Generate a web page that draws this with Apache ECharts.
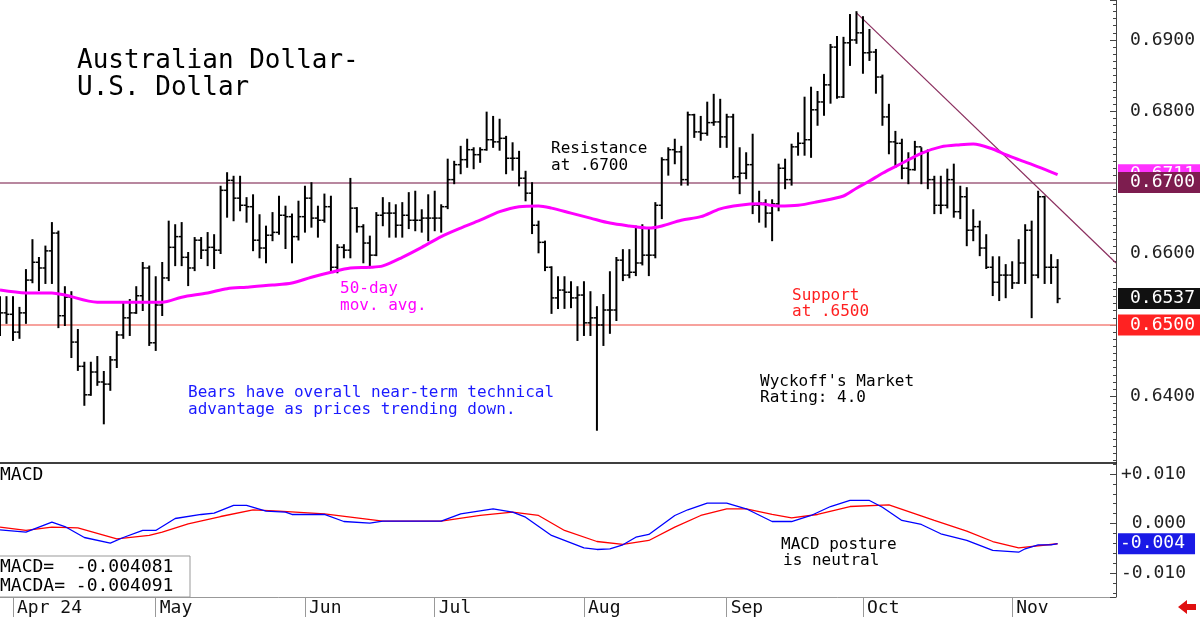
<!DOCTYPE html>
<html>
<head>
<meta charset="utf-8">
<title>Australian Dollar - U.S. Dollar</title>
<script src="https://cdn.jsdelivr.net/npm/echarts@6/dist/echarts.min.js"></script>
<style>
  html, body { margin: 0; padding: 0; background: #fff; }
  #chart { width: 1200px; height: 619px; }
</style>
</head>
<body>
<div id="chart"></div>
<script>
// daily bars, index 0 = 2024-03-28 (weekdays only)
const opens = [
  0.6507, 0.6517, 0.6515, 0.6490, 0.6517, 0.6563, 0.6588, 0.6580, 0.6604, 0.6629,
  0.6513, 0.6539, 0.6476, 0.6442, 0.6402, 0.6434, 0.6420, 0.6417, 0.6451, 0.6486,
  0.6510, 0.6517, 0.6541, 0.6580, 0.6475, 0.6528, 0.6566, 0.6609, 0.6624, 0.6595,
  0.6580, 0.6619, 0.6605, 0.6609, 0.6605, 0.6689, 0.6703, 0.6678, 0.6668, 0.6666,
  0.6619, 0.6608, 0.6626, 0.6630, 0.6654, 0.6652, 0.6624, 0.6652, 0.6678, 0.6650,
  0.6647, 0.6666, 0.6581, 0.6609, 0.6605, 0.6664, 0.6638, 0.6615, 0.6598, 0.6654,
  0.6657, 0.6657, 0.6640, 0.6654, 0.6647, 0.6647, 0.6650, 0.6650, 0.6650, 0.6666,
  0.6704, 0.6725, 0.6732, 0.6746, 0.6739, 0.6746, 0.6760, 0.6757, 0.6762, 0.6734,
  0.6734, 0.6706, 0.6685, 0.6640, 0.6616, 0.6581, 0.6538, 0.6549, 0.6546, 0.6538,
  0.6542, 0.6503, 0.6510, 0.6500, 0.6521, 0.6521, 0.6591, 0.6570, 0.6574, 0.6587,
  0.6598, 0.6598, 0.6668, 0.6732, 0.6746, 0.6743, 0.6704, 0.6795, 0.6771, 0.6769,
  0.6784, 0.6785, 0.6764, 0.6792, 0.6708, 0.6713, 0.6725, 0.6668, 0.6671, 0.6657,
  0.6670, 0.6720, 0.6704, 0.6750, 0.6755, 0.6760, 0.6802, 0.6813, 0.6837, 0.6890,
  0.6820, 0.6896, 0.6900, 0.6910, 0.6882, 0.6883, 0.6848, 0.6792, 0.6757, 0.6755,
  0.6720, 0.6718, 0.6750, 0.6743, 0.6704, 0.6668, 0.6668, 0.6704, 0.6659, 0.6680,
  0.6633, 0.6638, 0.6608, 0.6581, 0.6560, 0.6570, 0.6570, 0.6559, 0.6587, 0.6633,
  0.6570, 0.6680, 0.6581, 0.6581
];
const highs = [
  0.6539, 0.6539, 0.6539, 0.6524, 0.6577, 0.6619, 0.6594, 0.6610, 0.6643, 0.6631,
  0.6553, 0.6546, 0.6493, 0.6447, 0.6447, 0.6455, 0.6434, 0.6455, 0.6490, 0.6531,
  0.6535, 0.6553, 0.6587, 0.6582, 0.6567, 0.6587, 0.6645, 0.6640, 0.6643, 0.6601,
  0.6622, 0.6622, 0.6629, 0.6626, 0.6694, 0.6713, 0.6708, 0.6708, 0.6678, 0.6682,
  0.6654, 0.6638, 0.6657, 0.6680, 0.6666, 0.6655, 0.6673, 0.6694, 0.6699, 0.6666,
  0.6683, 0.6680, 0.6612, 0.6612, 0.6705, 0.6664, 0.6640, 0.6624, 0.6657, 0.6678,
  0.6671, 0.6668, 0.6671, 0.6685, 0.6687, 0.6661, 0.6682, 0.6687, 0.6668, 0.6732,
  0.6729, 0.6750, 0.6760, 0.6748, 0.6748, 0.6798, 0.6792, 0.6788, 0.6764, 0.6755,
  0.6743, 0.6715, 0.6699, 0.6645, 0.6617, 0.6581, 0.6567, 0.6567, 0.6560, 0.6553,
  0.6560, 0.6546, 0.6525, 0.6542, 0.6574, 0.6594, 0.6605, 0.6605, 0.6638, 0.6640,
  0.6636, 0.6671, 0.6734, 0.6748, 0.6760, 0.6750, 0.6798, 0.6795, 0.6792, 0.6812,
  0.6823, 0.6816, 0.6795, 0.6795, 0.6748, 0.6741, 0.6767, 0.6687, 0.6675, 0.6675,
  0.6725, 0.6732, 0.6753, 0.6769, 0.6819, 0.6833, 0.6827, 0.6851, 0.6893, 0.6904,
  0.6903, 0.6935, 0.6939, 0.6932, 0.6914, 0.6886, 0.6850, 0.6809, 0.6771, 0.6760,
  0.6741, 0.6757, 0.6748, 0.6745, 0.6708, 0.6708, 0.6718, 0.6725, 0.6694, 0.6692,
  0.6661, 0.6645, 0.6626, 0.6595, 0.6595, 0.6584, 0.6588, 0.6619, 0.6640, 0.6645,
  0.6687, 0.6680, 0.6598, 0.6591
];
const lows = [
  0.6486, 0.6503, 0.6479, 0.6482, 0.6503, 0.6560, 0.6549, 0.6559, 0.6559, 0.6497,
  0.6500, 0.6455, 0.6437, 0.6388, 0.6402, 0.6416, 0.6362, 0.6409, 0.6441, 0.6482,
  0.6486, 0.6517, 0.6521, 0.6472, 0.6465, 0.6514, 0.6563, 0.6584, 0.6584, 0.6556,
  0.6577, 0.6594, 0.6584, 0.6580, 0.6601, 0.6652, 0.6647, 0.6661, 0.6645, 0.6605,
  0.6595, 0.6588, 0.6619, 0.6628, 0.6608, 0.6588, 0.6620, 0.6631, 0.6638, 0.6624,
  0.6645, 0.6577, 0.6574, 0.6595, 0.6595, 0.6631, 0.6588, 0.6581, 0.6598, 0.6640,
  0.6624, 0.6624, 0.6624, 0.6636, 0.6633, 0.6631, 0.6619, 0.6633, 0.6631, 0.6664,
  0.6699, 0.6713, 0.6722, 0.6720, 0.6729, 0.6746, 0.6750, 0.6746, 0.6713, 0.6718,
  0.6696, 0.6675, 0.6629, 0.6602, 0.6577, 0.6517, 0.6524, 0.6524, 0.6525, 0.6479,
  0.6486, 0.6486, 0.6353, 0.6472, 0.6489, 0.6507, 0.6563, 0.6567, 0.6570, 0.6585,
  0.6570, 0.6595, 0.6650, 0.6711, 0.6727, 0.6697, 0.6697, 0.6764, 0.6760, 0.6767,
  0.6781, 0.6750, 0.6750, 0.6706, 0.6685, 0.6706, 0.6657, 0.6645, 0.6638, 0.6619,
  0.6661, 0.6692, 0.6697, 0.6739, 0.6739, 0.6736, 0.6781, 0.6795, 0.6812, 0.6819,
  0.6820, 0.6865, 0.6896, 0.6854, 0.6872, 0.6826, 0.6781, 0.6741, 0.6722, 0.6706,
  0.6699, 0.6718, 0.6699, 0.6692, 0.6657, 0.6657, 0.6665, 0.6652, 0.6650, 0.6612,
  0.6619, 0.6598, 0.6580, 0.6542, 0.6535, 0.6539, 0.6552, 0.6559, 0.6559, 0.6511,
  0.6567, 0.6559, 0.6559, 0.6532
];
const closes = [
  0.6517, 0.6515, 0.6490, 0.6517, 0.6563, 0.6588, 0.6580, 0.6604, 0.6629, 0.6513,
  0.6539, 0.6476, 0.6442, 0.6402, 0.6434, 0.6420, 0.6417, 0.6451, 0.6486, 0.6510,
  0.6517, 0.6541, 0.6580, 0.6475, 0.6528, 0.6566, 0.6609, 0.6624, 0.6595, 0.6580,
  0.6619, 0.6605, 0.6609, 0.6605, 0.6689, 0.6703, 0.6678, 0.6668, 0.6666, 0.6619,
  0.6608, 0.6626, 0.6630, 0.6654, 0.6652, 0.6624, 0.6652, 0.6678, 0.6650, 0.6647,
  0.6666, 0.6581, 0.6609, 0.6605, 0.6664, 0.6638, 0.6615, 0.6598, 0.6654, 0.6657,
  0.6657, 0.6640, 0.6654, 0.6647, 0.6647, 0.6650, 0.6650, 0.6650, 0.6666, 0.6704,
  0.6725, 0.6732, 0.6746, 0.6739, 0.6746, 0.6760, 0.6757, 0.6762, 0.6734, 0.6734,
  0.6706, 0.6685, 0.6640, 0.6616, 0.6581, 0.6538, 0.6549, 0.6546, 0.6538, 0.6542,
  0.6503, 0.6510, 0.6500, 0.6521, 0.6521, 0.6591, 0.6570, 0.6574, 0.6587, 0.6598,
  0.6598, 0.6668, 0.6732, 0.6746, 0.6743, 0.6704, 0.6795, 0.6771, 0.6769, 0.6784,
  0.6785, 0.6764, 0.6792, 0.6708, 0.6713, 0.6725, 0.6668, 0.6671, 0.6657, 0.6670,
  0.6720, 0.6704, 0.6750, 0.6755, 0.6760, 0.6802, 0.6813, 0.6837, 0.6890, 0.6820,
  0.6896, 0.6900, 0.6910, 0.6882, 0.6883, 0.6848, 0.6792, 0.6757, 0.6755, 0.6720,
  0.6718, 0.6750, 0.6743, 0.6704, 0.6668, 0.6668, 0.6704, 0.6659, 0.6680, 0.6633,
  0.6638, 0.6608, 0.6581, 0.6560, 0.6570, 0.6570, 0.6559, 0.6587, 0.6633, 0.6570,
  0.6680, 0.6581, 0.6581, 0.6537
];

// 50-day moving average, [bar index, value]
const ma50 = [
  [0, 0.6549], [4, 0.6545], [8, 0.6545], [10, 0.6542], [15, 0.6532], [19, 0.6532],
  [23, 0.6532], [25, 0.6532], [28, 0.6539], [32, 0.6545], [35, 0.6551], [38, 0.6553],
  [42, 0.6556], [45, 0.6559], [48, 0.6567], [51, 0.6574], [54, 0.6580], [57, 0.6581],
  [59, 0.6583], [62, 0.6595], [65, 0.6609], [68, 0.6624], [71, 0.6636], [74, 0.6647],
  [77, 0.6659], [80, 0.6666], [83, 0.6667], [85, 0.6664], [88, 0.6657], [91, 0.6650],
  [94, 0.6643], [97, 0.6639], [100, 0.6636], [102, 0.6639], [105, 0.6647], [108, 0.6652],
  [111, 0.6663], [114, 0.6668], [117, 0.6670], [120, 0.6667], [123, 0.6668], [126, 0.6673],
  [130, 0.6681], [132, 0.6692], [134, 0.6702], [136, 0.6713], [139, 0.6727], [142, 0.6741],
  [145, 0.6750], [148, 0.6753], [150, 0.6754], [153, 0.6747], [155, 0.6739], [157, 0.6732],
  [160, 0.6722], [163, 0.6711]
];

// MACD panel, [bar index, value]
const macd = [
  [0, -0.00127], [4, -0.00176], [8, 0.00026], [10, -0.00061], [13, -0.00283], [17, -0.00398],
  [19, -0.00283], [22, -0.00141], [24, -0.00141], [27, 0.00101], [31, 0.00182], [33, 0.00208],
  [36, 0.00364], [38, 0.00364], [41, 0.00248], [44, 0.00228], [45, 0.00182], [50, 0.00182],
  [53, 0.00040], [57, 0.00006], [59, 0.00046], [68, 0.00046], [71, 0.00196], [76, 0.00297],
  [79, 0.00228], [81, 0.00127], [85, -0.00242], [90, -0.00491], [92, -0.00525], [94, -0.00511],
  [96, -0.00430], [98, -0.00277], [100, -0.00222], [104, 0.00162], [106, 0.00277], [109, 0.00410],
  [112, 0.00410], [115, 0.00297], [119, 0.00040], [122, 0.00040], [125, 0.00162], [128, 0.00343],
  [131, 0.00465], [134, 0.00465], [136, 0.00329], [139, 0.00061], [142, -0.00020], [145, -0.00208],
  [149, -0.00343], [153, -0.00545], [157, -0.00580], [158, -0.00511], [160, -0.00430], [162, -0.00430],
  [163, -0.00408]
];
const macdAvg = [
  [0, -0.00075], [4, -0.00141], [8, -0.00075], [12, -0.00087], [18, -0.00309], [23, -0.00242],
  [25, -0.00176], [29, -0.00006], [34, 0.00141], [39, 0.00277], [43, 0.00248], [50, 0.00196],
  [59, 0.00046], [68, 0.00046], [74, 0.00162], [79, 0.00228], [83, 0.00162], [87, -0.00141],
  [92, -0.00364], [96, -0.00424], [100, -0.00343], [104, -0.00075], [108, 0.00162], [112, 0.00297],
  [115, 0.00297], [119, 0.00182], [122, 0.00115], [126, 0.00182], [131, 0.00343], [137, 0.00378],
  [144, 0.00061], [149, -0.00156], [153, -0.00364], [157, -0.00491], [163, -0.00409]
];

const tickLabels = {
  '2024-04': 'Apr 24', '2024-05': 'May', '2024-06': 'Jun', '2024-07': 'Jul',
  '2024-08': 'Aug', '2024-09': 'Sep', '2024-10': 'Oct', '2024-11': 'Nov'
};

const resistance = 0.67;
const support = 0.65;
const trendStart = [132, 0.6938];
const trendEnd = [172, 0.6587];

// weekday categories, a few empty slots after the last bar
const slotCount = 173;
const days = [];
for (let d = new Date(Date.UTC(2024, 2, 28)); days.length < slotCount; d.setUTCDate(d.getUTCDate() + 1)) {
  const wd = d.getUTCDay();
  if (wd !== 0 && wd !== 6) days.push(d.toISOString().slice(0, 10));
}
const isMonthStart = (i) => i > 0 && days[i].slice(0, 7) !== days[i - 1].slice(0, 7);

const mono = '"DejaVu Sans Mono", monospace';
const lastIdx = closes.length - 1;

function boxLabel(text, bg, padLeft) {
  return {
    show: true,
    position: 'end',
    distance: 2,
    formatter: text,
    color: '#fff',
    backgroundColor: bg,
    padding: [2, 10, 1, padLeft],
    fontFamily: mono,
    fontSize: 18
  };
}

function note(text, x, y, color, size) {
  return {
    type: 'text',
    x: x,
    y: y,
    z: 20,
    style: {
      text: text,
      fill: color || '#000',
      fontFamily: mono,
      fontSize: size || 16,
      verticalAlign: 'middle'
    }
  };
}

const chart = echarts.init(document.getElementById('chart'));

const option = {
  animation: false,
  backgroundColor: '#fff',
  grid: [
    { left: 0, right: 84, top: 0, height: 463 },
    { left: 0, right: 84, top: 463, height: 134 }
  ],
  xAxis: [
    {
      gridIndex: 0,
      type: 'category',
      data: days,
      boundaryGap: false,
      axisLine: { onZero: false, lineStyle: { color: '#000', width: 1.5 } },
      axisTick: { show: false },
      axisLabel: { show: false },
      splitLine: { show: false }
    },
    {
      gridIndex: 1,
      type: 'category',
      data: days,
      boundaryGap: false,
      axisLine: { onZero: false, lineStyle: { color: '#999', width: 1 } },
      axisTick: {
        interval: (i) => isMonthStart(i),
        length: 20,
        lineStyle: { color: '#999' }
      },
      axisLabel: {
        interval: (i) => isMonthStart(i),
        formatter: (v) => tickLabels[v.slice(0, 7)] || '',
        align: 'left',
        verticalAlign: 'top',
        padding: [0, 0, 0, 4],
        margin: 2,
        fontFamily: mono,
        fontSize: 18,
        color: '#111'
      },
      splitLine: { show: false }
    }
  ],
  yAxis: [
    {
      gridIndex: 0,
      type: 'value',
      position: 'right',
      min: 0.63063,
      max: 0.69561,
      splitNumber: 6,
      axisLine: { show: true, lineStyle: { color: '#444' } },
      axisTick: { show: true, inside: true, length: 6, lineStyle: { color: '#444' } },
      minorTick: { show: true, splitNumber: 10, length: 3, lineStyle: { color: '#444' } },
      splitLine: { show: false },
      axisLabel: {
        formatter: (v) => v.toFixed(4),
        showMinLabel: false,
        showMaxLabel: false,
        margin: 14,
        fontFamily: mono,
        fontSize: 18,
        color: '#222'
      }
    },
    {
      gridIndex: 1,
      type: 'value',
      position: 'right',
      min: -0.01485,
      max: 0.01222,
      splitNumber: 2,
      axisLine: { show: true, lineStyle: { color: '#444' } },
      axisTick: { show: true, inside: true, length: 6, lineStyle: { color: '#444' } },
      minorTick: { show: true, splitNumber: 5, length: 3, lineStyle: { color: '#444' } },
      splitLine: { show: false },
      axisLabel: {
        formatter: (v) => Math.abs(v) < 1e-9 ? '0.000' : (v > 0 ? '+' : '') + v.toFixed(3),
        showMinLabel: false,
        showMaxLabel: false,
        align: 'right',
        margin: 70,
        fontFamily: mono,
        fontSize: 18,
        color: '#222'
      }
    }
  ],
  series: [
    {
      name: 'AUD/USD',
      type: 'custom',
      xAxisIndex: 0,
      yAxisIndex: 0,
      z: 2,
      data: closes.map((c, i) => [i, opens[i], highs[i], lows[i], c]),
      encode: { x: 0, y: [1, 2, 3, 4] },
      renderItem: (params, api) => {
        const i = api.value(0);
        const hi = api.coord([i, api.value(2)]);
        const lo = api.coord([i, api.value(3)]);
        const op = api.coord([i, api.value(1)]);
        const cl = api.coord([i, api.value(4)]);
        const tick = { stroke: '#000', lineWidth: 1.5 };
        return {
          type: 'group',
          children: [
            { type: 'line', shape: { x1: hi[0], y1: hi[1] - 1, x2: lo[0], y2: lo[1] + 1 }, style: { stroke: '#000', lineWidth: 2 } },
            { type: 'line', shape: { x1: op[0] - 3, y1: op[1], x2: op[0], y2: op[1] }, style: tick },
            { type: 'line', shape: { x1: cl[0], y1: cl[1], x2: cl[0] + 3, y2: cl[1] }, style: tick }
          ]
        };
      }
    },
    {
      name: '50-day mov. avg.',
      type: 'line',
      xAxisIndex: 0,
      yAxisIndex: 0,
      z: 3,
      data: ma50,
      showSymbol: false,
      smooth: 0.3,
      lineStyle: { color: '#ff00ff', width: 3 },
      markLine: {
        silent: true,
        symbol: 'none',
        precision: 6,
        z: 1,
        data: [
          {
            yAxis: ma50[ma50.length - 1][1],
            lineStyle: { color: 'transparent', width: 0 },
            label: boxLabel('0.6711', '#ff33ff', 12)
          },
          {
            yAxis: resistance,
            lineStyle: { color: '#b8879f', width: 2, type: 'solid' },
            label: boxLabel('0.6700', '#7d1d4f', 12)
          },
          {
            yAxis: support,
            lineStyle: { color: '#f4837d', width: 1.5, type: 'solid' },
            label: boxLabel('0.6500', '#ff2222', 12)
          },
          {
            yAxis: closes[lastIdx],
            lineStyle: { color: 'transparent', width: 0 },
            label: boxLabel(closes[lastIdx].toFixed(4), '#111', 12)
          },
          [
            { coord: [days[trendStart[0]], trendStart[1]], lineStyle: { color: '#8b2f5f', width: 1.2, type: 'solid' }, label: { show: false } },
            { coord: [days[trendEnd[0]], trendEnd[1]] }
          ]
        ]
      }
    },
    {
      name: 'MACD',
      type: 'line',
      xAxisIndex: 1,
      yAxisIndex: 1,
      z: 3,
      data: macd,
      showSymbol: false,
      lineStyle: { color: '#0000ff', width: 1.3 },
      markLine: {
        silent: true,
        symbol: 'none',
        precision: 6,
        data: [
          {
            yAxis: macd[macd.length - 1][1],
            lineStyle: { color: 'transparent', width: 0 },
            label: boxLabel('-0.004', '#1a1ae6', 2)
          }
        ]
      }
    },
    {
      name: 'MACDA',
      type: 'line',
      xAxisIndex: 1,
      yAxisIndex: 1,
      z: 2,
      data: macdAvg,
      showSymbol: false,
      lineStyle: { color: '#ff0000', width: 1.3 }
    }
  ],
  graphic: [
    note('Australian Dollar-', 77, 61, '#000', 26),
    note('U.S. Dollar', 77, 88, '#000', 26),
    note('Resistance', 551, 149),
    note('at .6700', 551, 166),
    note('50-day', 340, 289, '#ff00ff'),
    note('mov. avg.', 340, 306, '#ff00ff'),
    note('Support', 792, 296, '#ff2020'),
    note('at .6500', 792, 312, '#ff2020'),
    note('Bears have overall near-term technical', 188, 393, '#1a1aff'),
    note('advantage as prices trending down.', 188, 410, '#1a1aff'),
    note("Wyckoff's Market", 760, 382),
    note('Rating: 4.0', 760, 398),
    note('MACD', 0, 475, '#000', 18),
    note('MACD posture', 781, 545),
    note('is neutral', 783, 561),
    {
      type: 'rect',
      z: 15,
      shape: { x: -1, y: 556, width: 191, height: 41 },
      style: { fill: '#fff', stroke: '#999', lineWidth: 1 }
    },
    note('MACD=  -0.004081', 0, 567, '#000', 18),
    note('MACDA= -0.004091', 0, 586, '#000', 18),
    {
      type: 'polygon',
      z: 20,
      shape: { points: [[1178, 607], [1187, 600], [1187, 604], [1196, 604], [1196, 610], [1187, 610], [1187, 614]] },
      style: { fill: '#e01010' }
    }
  ]
};

chart.setOption(option);
</script>
</body>
</html>
